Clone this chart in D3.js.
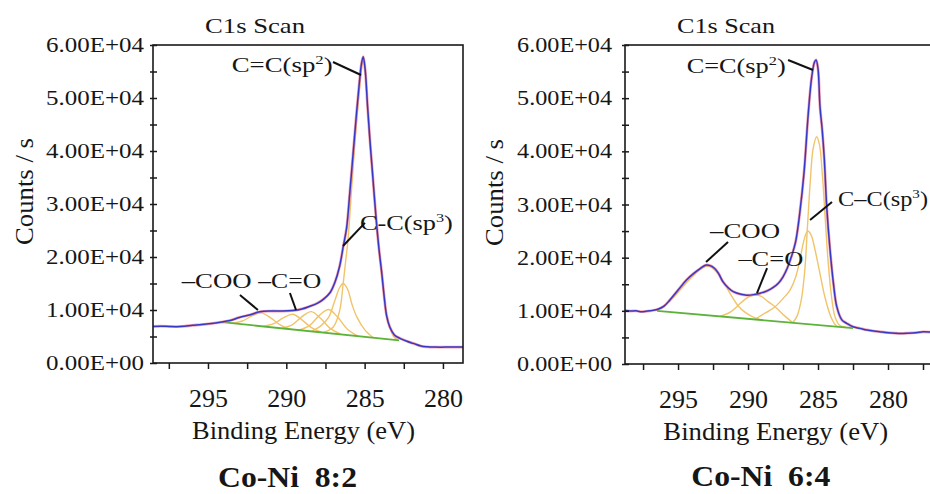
<!DOCTYPE html>
<html><head><meta charset="utf-8">
<script src="https://cdn.jsdelivr.net/npm/d3@7"></script>
<style>body{margin:0;background:#fff;} svg{display:block;}</style>
</head><body>
<svg id="chart" width="930" height="494"></svg>
<script>
// ---------------- DATA ----------------
const xTicks = [297.5, 295, 292.5, 290, 287.5, 285, 282.5, 280, 277.5];
const xTickLabels = [295, 290, 285, 280];
const yTicks = [0, 5000, 10000, 15000, 20000, 25000, 30000, 35000, 40000, 45000, 50000, 55000, 60000];
const yTickLabels = ["0.00E+00", "1.00E+04", "2.00E+04", "3.00E+04", "4.00E+04", "5.00E+04", "6.00E+04"];
const yLabelValues = [0, 10000, 20000, 30000, 40000, 50000, 60000];

// Co-Ni 8:2  (binding energy eV, counts/s)
const envelope82 = [[298.5,6900],[298.0,6950],[297.5,6900],[297.0,6850],[296.5,6950],[296.0,7100],[295.4,7250],[294.8,7450],[294.2,7700],[293.6,8000],[293.0,8600],[292.3,9100],[291.7,9650],[291.0,9800],[290.3,9800],[289.6,9900],[289.0,10200],[288.5,10700],[288.0,11300],[287.6,12100],[287.2,13300],[286.9,15200],[286.6,18200],[286.37,21900],[286.15,25500],[285.95,32000],[285.75,39000],[285.55,46000],[285.35,52500],[285.2,56500],[285.09,57800],[284.97,55500],[284.81,48300],[284.66,42000],[284.5,36000],[284.3,28500],[284.1,22000],[283.9,16800],[283.75,12500],[283.6,9000],[283.4,6850],[283.1,5300],[282.75,4660],[282.3,4100],[281.9,3700],[281.4,3200],[281.0,3050],[280.5,3000],[279.5,3000],[278.7,3000]];
const baseline82 = [[294.1,7700],[282.8,4250]];
const sp2_82 = [[287.6,5800],[287.0,6800],[286.6,9800],[286.37,15000],[286.2,19500],[286.07,23000],[285.85,32000],[285.66,40000],[285.47,47000],[285.25,54000],[285.09,57300],[284.95,54500],[284.81,48000],[284.66,41500],[284.5,35500],[284.3,28000],[284.1,21500],[283.9,16300],[283.75,12300],[283.6,8800],[283.4,6700],[283.15,5000],[282.9,4330]];
const sp3_82 = [[288.4,5960],[287.8,7000],[287.3,8600],[286.9,11800],[286.6,14200],[286.37,15000],[286.1,14000],[285.8,11000],[285.5,8700],[285.0,6300],[284.45,4750]];
const compA_82 = [[289.2,6200],[288.5,7110],[287.9,8940],[287.3,10100],[286.7,8570],[286.1,6380],[285.4,5040]];
const compB_82 = [[290.3,6540],[289.6,7260],[289.0,8760],[288.4,9700],[287.8,8390],[287.2,6530],[286.5,5380]];
const compC_82 = [[291.5,6900],[290.8,7410],[290.2,8520],[289.6,9200],[289.0,8150],[288.4,6680],[287.7,5745]];
const compD_82 = [[293.5,7510],[292.8,7930],[292.2,8880],[291.6,9450],[291.0,8510],[290.4,7200],[289.7,6355]];

// Co-Ni 6:4
const envelope64 = [[298.8,10050],[298.4,9950],[298.0,10000],[297.7,9850],[297.3,9900],[297.0,10000],[296.5,10250],[296.0,10900],[295.6,12000],[295.0,13900],[294.4,15800],[293.9,17000],[293.4,18000],[293.0,18600],[292.7,18500],[292.4,18000],[292.1,17000],[291.8,15500],[291.4,14300],[291.05,13600],[290.5,13100],[290.1,12950],[289.6,13050],[289.14,13300],[288.6,13800],[288.2,14400],[287.8,15300],[287.5,16400],[287.2,18000],[286.9,20200],[286.6,23000],[286.3,28500],[286.0,36000],[285.7,47000],[285.45,54000],[285.25,56800],[285.14,57200],[285.0,55500],[284.86,48400],[284.7,44000],[284.55,38500],[284.38,29600],[284.14,21440],[283.9,15180],[283.66,10780],[283.3,8300],[282.95,7650],[282.5,7000],[282.0,6700],[281.5,6400],[281.0,6200],[280.6,6080],[280.0,5900],[279.5,5800],[279.1,5750],[278.6,5800],[278.0,5900],[277.5,6050],[277.0,6000]];
const baseline64 = [[296.5,10000],[282.5,6750]];
const coo64 = [[296.6,10050],[296.2,10600],[295.6,11800],[295.0,13500],[294.4,15300],[293.8,16900],[293.3,18000],[292.9,18400],[292.5,18000],[292.1,16900],[291.7,15200],[291.2,12900],[290.7,10900],[290.2,9700],[289.7,8900],[289.2,8420]];
const co64 = [[292.0,8950],[291.3,9700],[290.8,10780],[290.2,12200],[289.8,12800],[289.4,12980],[289.0,12650],[288.6,11800],[288.07,10780],[287.4,9100],[286.8,7750]];
const sp3_64 = [[289.5,8380],[289.0,9250],[288.5,10000],[288.07,10780],[287.5,12300],[287.0,13900],[286.6,16300],[286.3,19500],[286.0,23300],[285.75,25000],[285.5,24300],[285.2,21300],[284.9,17500],[284.5,12500],[284.1,9000],[283.8,7500],[283.6,7000]];
const sp2_64 = [[286.8,7750],[286.5,9000],[286.2,12000],[285.95,17500],[285.75,26000],[285.55,34500],[285.35,40500],[285.1,42750],[284.9,41300],[284.7,36000],[284.5,28000],[284.3,20000],[284.05,13000],[283.8,9000],[283.5,7400],[283.2,7000],[282.9,6850]];

// ---------------- DRAWING ----------------
const FONT = '"Liberation Serif","Times New Roman",Times,serif';
const svg = d3.select('#chart');
const TXT = '#161616';

function addText(parent, o) {
  const g = parent.append('g');
  const t = g.append('text').style('font-family', FONT).attr('font-size', o.size)
    .attr('font-weight', o.weight || 'normal').attr('text-anchor', o.anchor || 'start')
    .attr('fill', TXT).style('white-space', 'pre');
  o.parts.forEach(p => {
    const ts = t.append('tspan').text(p.t);
    if (p.sup) ts.attr('font-size', o.size * 0.62).attr('dy', -o.size * 0.38);
    if (p.after) ts.attr('dy', o.size * 0.38);
  });
  let s = 1;
  if (o.width) { const w = t.node().getComputedTextLength(); if (w > 0) s = o.width / w; }
  g.attr('transform', `translate(${o.x},${o.y}) rotate(${o.rotate || 0}) scale(${s},1)`);
  return g;
}

const panels = [
  { id: 'a', left: 153, right: 463, top: 45, bottom: 363, eLeft: 298.51, eRight: 278.72, frameRight: 463,
    env: envelope82, base: baseline82, comps: [compD_82, compC_82, compB_82, compA_82, sp3_82, sp2_82],
    yLabRight: 144, yLabW: 98, titleX: 255, titleW: 100, ylabX: 33, ylabY: 191.5,
    xtitleX: 303.5, xtitleY: 439, xtitleW: 223, nameX: 287.5, nameY: 487, name: 'Co-Ni  8:2',
    ann: [
      { parts: [{t:'C=C(sp'},{t:'2',sup:true},{t:')',after:true}], e: 293.49, c: 54906, w: 101, line: [[287.02,56793],[285.23,54340]] },
      { parts: [{t:'C-C(sp'},{t:'3',sup:true},{t:')',after:true}], e: 285.30, c: 25094, w: 93, line: [[284.98,26440],[286.38,22075]] },
      { parts: [{t:'–COO'}], e: 296.68, c: 14151, w: 70, line: [[292.96,12830],[291.81,10000]] },
      { parts: [{t:'–C=O'}], e: 291.79, c: 14151, w: 63, line: [[289.77,13208],[289.38,10000]] }
    ] },
  { id: 'b', left: 625, right: 930, top: 45, bottom: 364, eLeft: 298.79, eRight: 277.0, frameRight: 940,
    env: envelope64, base: baseline64, comps: [coo64, co64, sp3_64, sp2_64],
    yLabRight: 612, yLabW: 95, titleX: 726, titleW: 98, ylabX: 503, ylabY: 192.5,
    xtitleX: 775.8, xtitleY: 440, xtitleW: 225, nameX: 760.8, nameY: 486, name: 'Co-Ni  6:4',
    ann: [
      { parts: [{t:'C=C(sp'},{t:'2',sup:true},{t:')',after:true}], e: 294.38, c: 54731, w: 99, line: [[287.14,57176],[285.36,55296]] },
      { parts: [{t:'C–C(sp'},{t:'3',sup:true},{t:')',after:true}], e: 283.57, c: 29717, w: 90, line: [[284.0,30469],[285.57,27084]] },
      { parts: [{t:'–COO'}], e: 292.71, c: 23698, w: 70, line: [[291.43,22946],[293.0,19184]] },
      { parts: [{t:'–C=O'}], e: 290.69, c: 18432, w: 65, line: [[288.64,18056],[289.36,13354]] }
    ] }
];

panels.forEach(p => {
  const x = d3.scaleLinear().domain([p.eLeft, p.eRight]).range([p.left, p.right]);
  const y = d3.scaleLinear().domain([0, 60000]).range([p.bottom, p.top]);
  const g = svg.append('g');

  const clipId = 'clip-' + p.id;
  svg.append('clipPath').attr('id', clipId).append('rect')
    .attr('x', p.left).attr('y', p.top).attr('width', p.right - p.left).attr('height', p.bottom - p.top);

  const line = d3.line().x(d => x(d[0])).y(d => y(d[1])).curve(d3.curveCatmullRom.alpha(0.5));
  const plot = g.append('g').attr('clip-path', `url(#${clipId})`);

  p.comps.forEach(c => plot.append('path').attr('d', line(c)).attr('fill', 'none')
    .attr('stroke', '#f1c46a').attr('stroke-width', 1.4).attr('stroke-linejoin', 'round'));
  plot.append('path').attr('d', d3.line().x(d => x(d[0])).y(d => y(d[1]))(p.base)).attr('fill', 'none')
    .attr('stroke', '#5cb33a').attr('stroke-width', 1.8);
  plot.append('path').attr('d', line(p.env)).attr('fill', 'none')
    .attr('stroke', '#ec7d8e').attr('stroke-width', 2.8).attr('stroke-linejoin', 'round').attr('opacity', 0.7);
  plot.append('path').attr('d', line(p.env)).attr('fill', 'none')
    .attr('stroke', '#3838c4').attr('stroke-width', 1.5).attr('stroke-linejoin', 'round');

  // frame
  g.append('rect').attr('x', p.left).attr('y', p.top).attr('width', p.frameRight - p.left)
    .attr('height', p.bottom - p.top).attr('fill', 'none').attr('stroke', '#1a1a1a').attr('stroke-width', 1.6);

  // x axis
  const xa = g.append('g').attr('transform', `translate(0,${p.bottom})`)
    .call(d3.axisBottom(x).tickValues(xTicks.filter(t => x(t) <= p.right + 0.5 && x(t) >= p.left))
      .tickSize(6).tickSizeOuter(0).tickFormat(d => xTickLabels.includes(d) ? d3.format('d')(d) : ''));
  xa.select('.domain').remove();
  xa.selectAll('.tick line').attr('stroke', '#1a1a1a').attr('stroke-width', 1.5);
  xa.selectAll('.tick text').attr('y', 44).attr('dy', 0).style('font-family', FONT)
    .attr('font-size', 26).attr('fill', TXT);

  // y axis
  const ya = g.append('g').attr('transform', `translate(${p.left},0)`)
    .call(d3.axisLeft(y).tickValues(yTicks).tickSize(3).tickSizeOuter(0).tickFormat(''));
  ya.select('.domain').remove();
  ya.selectAll('.tick line').attr('x1', 4).attr('x2', -3).attr('stroke', '#1a1a1a').attr('stroke-width', 1.5);
  yLabelValues.forEach((v, i) => addText(g, { x: p.yLabRight, y: y(v) + 7, size: 20, width: p.yLabW,
    anchor: 'end', parts: [{ t: yTickLabels[i] }] }));

  // titles
  addText(g, { x: p.titleX, y: 33, size: 22, width: p.titleW, anchor: 'middle', parts: [{ t: 'C1s Scan' }] });
  addText(g, { x: p.ylabX, y: p.ylabY, size: 26, width: 107, anchor: 'middle', rotate: -90, parts: [{ t: 'Counts / s' }] });
  addText(g, { x: p.xtitleX, y: p.xtitleY, size: 25, width: p.xtitleW, anchor: 'middle', parts: [{ t: 'Binding Energy (eV)' }] });
  addText(g, { x: p.nameX, y: p.nameY, size: 29, width: 139, anchor: 'middle', weight: 'bold', parts: [{ t: p.name }] });

  // annotations
  p.ann.forEach(a => {
    addText(g, { x: x(a.e), y: y(a.c), size: 21, width: a.w, parts: a.parts });
    g.append('line').attr('x1', x(a.line[0][0])).attr('y1', y(a.line[0][1]))
      .attr('x2', x(a.line[1][0])).attr('y2', y(a.line[1][1]))
      .attr('stroke', '#111').attr('stroke-width', 2);
  });
});
</script>
</body></html>
